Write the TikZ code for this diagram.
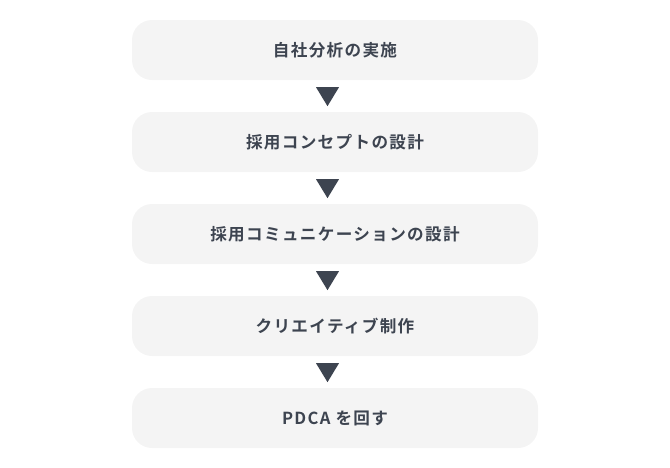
\documentclass[tikz,border=0pt]{standalone}
\usepackage{fontspec}
\newfontfamily\jpfont[LetterSpace=8,BoldFont={Noto Sans CJK JP Bold}]{Noto Sans CJK JP}
\definecolor{boxfill}{HTML}{F4F4F4}
\definecolor{ink}{HTML}{3D4450}
\begin{document}
\begin{tikzpicture}[x=1pt,y=-1pt,
  stepbox/.style={fill=boxfill,rounded corners=20pt,minimum width=406pt,minimum height=60pt,inner sep=0pt,text=ink,font=\jpfont\bfseries\fontsize{16.6}{19}\selectfont},
  tri/.style={fill=ink}]
\useasboundingbox (0,0) rectangle (670,467);
\node[stepbox] (s1) at (335,50) {自社分析の実施};
\node[stepbox] (s2) at (335,142) {採用コンセプトの設計};
\node[stepbox] (s3) at (335,234) {採用コミュニケーションの設計};
\node[stepbox] (s4) at (335,326) {クリエイティブ制作};
\node[stepbox] (s5) at (335,418) {PDCA を回す};
\foreach \a in {s1,s2,s3,s4}{
  \fill[tri] ([xshift=-19pt,yshift=-7pt]\a.south) -- ([xshift=4pt,yshift=-7pt]\a.south) -- ([xshift=-7.5pt,yshift=-26pt]\a.south) -- cycle;
}
\end{tikzpicture}
\end{document}
